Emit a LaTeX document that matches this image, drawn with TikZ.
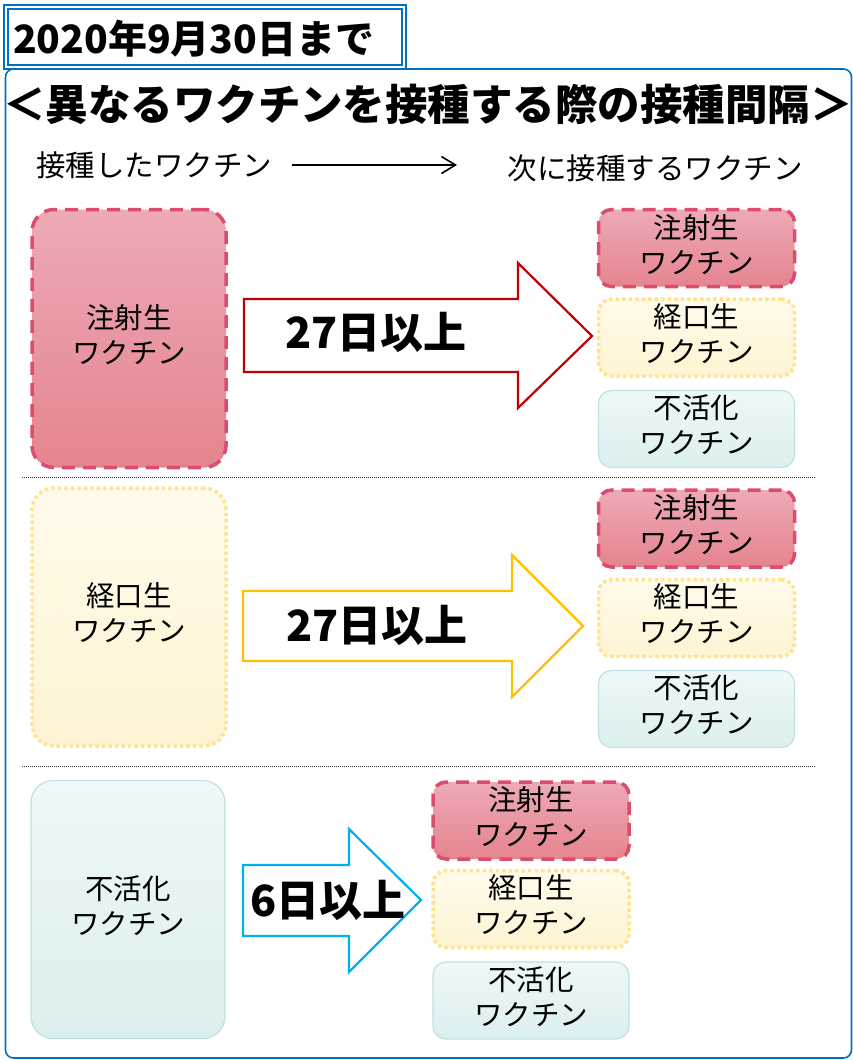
\documentclass[tikz,border=0pt]{standalone}
\usepackage{fontspec}
\setmainfont{Noto Sans CJK JP}
\usetikzlibrary{arrows.meta}
\definecolor{blueC}{HTML}{0070C0}
\definecolor{pinkTop}{HTML}{EDAAB5}
\definecolor{pinkBot}{HTML}{E5848F}
\definecolor{pinkLine}{HTML}{DC4C70}
\definecolor{yelTop}{HTML}{FFFBEC}
\definecolor{yelBot}{HTML}{FEF4D2}
\definecolor{yelLine}{HTML}{FFE38F}
\definecolor{tealTop}{HTML}{EEF8F8}
\definecolor{tealBot}{HTML}{DCEFEF}
\definecolor{tealLine}{HTML}{BFE1E4}
\definecolor{arRed}{HTML}{C00000}
\definecolor{arGold}{HTML}{FFC000}
\definecolor{arCyan}{HTML}{00B0F0}
\tikzset{
 boxtext/.style={align=center, font=\fontsize{28.5}{35}\selectfont, inner sep=0pt, text depth=9pt},
 pinkbox/.style={boxtext, draw=pinkLine, line width=3.5pt, dash pattern=on 13pt off 8pt, top color=pinkTop, bottom color=pinkBot},
 yelbox/.style={boxtext, draw=yelLine, line width=3.5pt, dash pattern=on 3.5pt off 3pt, top color=yelTop, bottom color=yelBot},
 tealbox/.style={boxtext, draw=tealLine, line width=1.2pt, top color=tealTop, bottom color=tealBot},
 bigbox/.style={minimum width=194pt, minimum height=258pt, rounded corners=22pt},
 smallbox/.style={minimum width=196pt, minimum height=77pt, rounded corners=13pt},
 blockarrow/.style={fill=white, line width=2.2pt, line join=miter},
 daystext/.style={font=\fontsize{43}{43}\selectfont\bfseries, inner sep=0pt},
 sepline/.style={draw=black!80, line width=0.9pt, dash pattern=on 1pt off 1pt},
}
\begin{document}
\begin{tikzpicture}[x=1pt,y=-1pt]
\useasboundingbox (0,0) rectangle (853,1060);
% main frame
\node (main) [draw=blueC, line width=1.6pt, rounded corners=8pt, minimum width=846pt, minimum height=989pt, inner sep=0pt] at (428.5,563.5) {};
% date box
\node (date) [draw=blueC, double=white, double distance=2.6pt, line width=1.3pt, minimum width=398pt, minimum height=60pt, inner sep=0pt, fill=white] at (205,37) {};
\node (datetext) [anchor=west, font=\fontsize{39}{39}\selectfont\bfseries, inner sep=0pt] at (13,39) {2020年9月30日まで};
% title
\node (title) [font=\fontsize{42.5}{42.5}\selectfont\bfseries, inner sep=0pt] at (428,104) {＜異なるワクチンを接種する際の接種間隔＞};
% subtitles
\node (sub1) [font=\fontsize{29.5}{29.5}\selectfont, inner sep=0pt] at (154,165) {接種したワクチン};
\node (sub2) [font=\fontsize{29.5}{29.5}\selectfont, inner sep=0pt] at (655,168) {次に接種するワクチン};
\coordinate (ha) at (292,165);
\coordinate (hb) at (457,165);
\draw[-{Straight Barb[length=14pt,width=17pt]}, line width=1.6pt] (ha) -- (hb);
% separators
\coordinate (s1a) at (22,477); \coordinate (s1b) at (816,477);
\coordinate (s2a) at (22,766); \coordinate (s2b) at (816,766);
\draw[sepline] (s1a) -- (s1b);
\draw[sepline] (s2a) -- (s2b);
% section 1
\node (b1) [pinkbox, bigbox] at (129,338.5) {注射生\\ワクチン};
\draw[blockarrow, draw=arRed] (244,299) -- (518,299) -- (518,263) -- (592,336) -- (518,408) -- (518,372) -- (244,372) -- cycle;
\node (t1) [daystext] at (376,332) {27日以上};
\node (r11) [pinkbox, smallbox] at (696.5,248) {注射生\\ワクチン};
\node (r12) [yelbox, smallbox] at (696.5,337.5) {経口生\\ワクチン};
\node (r13) [tealbox, smallbox] at (696.5,429) {不活化\\ワクチン};
% section 2
\node (b2) [yelbox, bigbox] at (129,617) {経口生\\ワクチン};
\draw[blockarrow, draw=arGold] (243,591) -- (512,591) -- (512,555) -- (583,626) -- (512,697) -- (512,661) -- (243,661) -- cycle;
\node (t2) [daystext] at (377,625) {27日以上};
\node (r21) [pinkbox, smallbox] at (696.5,528.5) {注射生\\ワクチン};
\node (r22) [yelbox, smallbox] at (696.5,618) {経口生\\ワクチン};
\node (r23) [tealbox, smallbox] at (696.5,709) {不活化\\ワクチン};
% section 3
\node (b3) [tealbox, bigbox] at (128,909.5) {不活化\\ワクチン};
\draw[blockarrow, draw=arCyan] (243,865) -- (349,865) -- (349,829) -- (421,900) -- (349,972) -- (349,936) -- (243,936) -- cycle;
\node (t3) [daystext] at (328,900) {6日以上};
\node (r31) [pinkbox, smallbox] at (531,820.5) {注射生\\ワクチン};
\node (r32) [yelbox, smallbox] at (531,909) {経口生\\ワクチン};
\node (r33) [tealbox, smallbox] at (531,1000.5) {不活化\\ワクチン};
\end{tikzpicture}
\end{document}
